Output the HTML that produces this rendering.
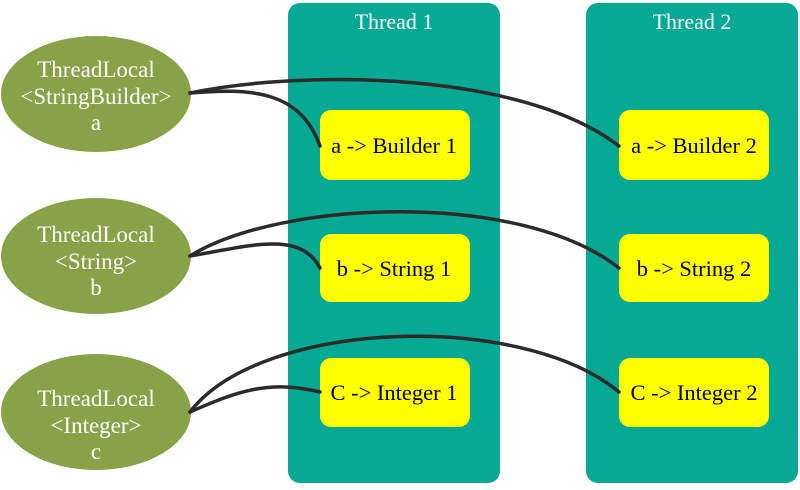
<!DOCTYPE html>
<html><head><style>
body{margin:0;background:#fff;}
svg text{font-family:"Liberation Serif",serif;}
</style></head><body>
<svg width="800" height="485" viewBox="0 0 800 485" xmlns="http://www.w3.org/2000/svg">
<rect x="288" y="3" width="212" height="480" rx="12" fill="#05a994"/>
<rect x="586" y="3" width="212" height="480" rx="12" fill="#05a994"/>
<text x="394" y="29" font-size="22" fill="#fff" text-anchor="middle">Thread 1</text>
<text x="692" y="29" font-size="22" fill="#fff" text-anchor="middle">Thread 2</text>
<g fill="#ffff00">
<rect x="320" y="110" width="150" height="70" rx="11"/>
<rect x="320" y="234" width="150" height="68" rx="11"/>
<rect x="320" y="358" width="150" height="69" rx="11"/>
<rect x="619" y="110" width="150" height="70" rx="11"/>
<rect x="619" y="234" width="150" height="68" rx="11"/>
<rect x="619" y="358" width="150" height="69" rx="11"/>
</g>
<g font-size="22.5" fill="#000" text-anchor="middle">
<text x="394" y="153">a -&gt; Builder 1</text>
<text x="394" y="276">b -&gt; String 1</text>
<text x="394" y="400">C -&gt; Integer 1</text>
<text x="694" y="153">a -&gt; Builder 2</text>
<text x="694" y="276">b -&gt; String 2</text>
<text x="694" y="400">C -&gt; Integer 2</text>
</g>
<g fill="#87a247">
<ellipse cx="96" cy="94" rx="95" ry="58"/>
<ellipse cx="96" cy="256" rx="95" ry="58"/>
<ellipse cx="96" cy="412" rx="95" ry="58"/>
</g>
<g font-size="23" fill="#fff" text-anchor="middle">
<text x="96" y="77">ThreadLocal</text><text x="96" y="104">&lt;StringBuilder&gt;</text><text x="96" y="130">a</text>
<text x="96" y="242">ThreadLocal</text><text x="96" y="269">&lt;String&gt;</text><text x="96" y="295">b</text>
<text x="96" y="406">ThreadLocal</text><text x="96" y="433">&lt;Integer&gt;</text><text x="96" y="459">c</text>
</g>
<g fill="none" stroke="#2b2b2b" stroke-width="3.5" stroke-linecap="round">
<path d="M190 93 C250 88 300 90 320 146"/>
<path d="M190 93 C300 70 520 70 619 146"/>
<path d="M190 256 C250 246 300 230 320 268"/>
<path d="M190 256 C280 200 520 190 619 268"/>
<path d="M190 412 C240 390 270 380 320 392"/>
<path d="M190 412 C260 320 520 310 619 392"/>
</g>
</svg>
</body></html>
